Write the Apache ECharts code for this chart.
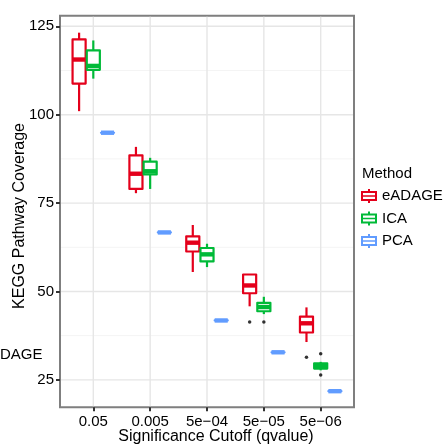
<!DOCTYPE html>
<html><head><meta charset="utf-8">
<script src="https://cdn.jsdelivr.net/npm/echarts@6/dist/echarts.min.js"></script>
<style>html,body{margin:0;padding:0;background:#fff}#c{width:444px;height:446px}</style>
</head><body><div id="c"></div>
<script>
// ---- data ----
const categories = ['0.05', '0.005', '5e\u221204', '5e\u221205', '5e\u221206'];
const methods = ['eADAGE', 'ICA', 'PCA'];
const colors = ['#E4001B', '#00BA38', '#619CFF'];
// [min, Q1, median, Q3, max] per cutoff
const eadageStats = [[101.0,108.8,115.6,121.3,123.2],[77.8,79.0,83.3,88.5,90.9],[55.5,61.3,63.8,65.6,68.8],[45.8,49.5,51.7,54.8,54.8],[35.7,38.4,41.0,42.9,45.5]];
const icaStats = [[110.2,112.7,113.8,118.2,121.0],[79.0,83.1,84.0,86.7,87.8],[56.9,58.5,60.5,62.3,63.5],[43.6,44.4,45.6,46.8,48.5],[27.7,28.2,28.9,29.7,30.1]];
const pcaStats = [[94.9,94.9,94.9,94.9,94.9],[66.7,66.7,66.7,66.7,66.7],[41.8,41.8,41.8,41.8,41.8],[32.8,32.8,32.8,32.8,32.8],[21.8,21.8,21.8,21.8,21.8]];
// outliers: [cutoff index (1-based), value]
const eadageOutliers = [[4,41.4],[5,31.4]];
const icaOutliers = [[4,41.4],[5,32.4],[5,26.4]];
const yTicks = [25, 50, 75, 100, 125];
const yMinor = [37.5, 62.5, 87.5, 112.5];
const xTitle = 'Significance Cutoff (qvalue)';
const yTitle = 'KEGG Pathway Coverage';

// ---- chart ----
const FONT = "'Liberation Sans', Arial, Helvetica, sans-serif";
const dodge = [-0.25, 0, 0.25];
const HW = 0.115;

function boxSeries(name, stats, color, off) {
  return {
    type: 'custom', name: name, z: 3, clip: false,
    itemStyle: { color: color },
    data: stats.map((s, i) => [i + 1].concat(s)),
    encode: { x: 0, y: [1, 2, 3, 4, 5] },
    renderItem: function (params, api) {
      const x = api.value(0) + off;
      const pMin = api.coord([x, api.value(1)]);
      const pQ1 = api.coord([x, api.value(2)]);
      const pMed = api.coord([x, api.value(3)]);
      const pQ3 = api.coord([x, api.value(4)]);
      const pMax = api.coord([x, api.value(5)]);
      const l = api.coord([x - HW, api.value(3)])[0];
      const r = api.coord([x + HW, api.value(3)])[0];
      const lw = 2.2;
      return { type: 'group', children: [
        { type: 'line', shape: { x1: pMax[0], y1: pMax[1], x2: pQ3[0], y2: pQ3[1] }, style: { stroke: color, lineWidth: lw } },
        { type: 'line', shape: { x1: pQ1[0], y1: pQ1[1], x2: pMin[0], y2: pMin[1] }, style: { stroke: color, lineWidth: lw } },
        { type: 'rect', shape: { x: l, y: pQ3[1], width: r - l, height: pQ1[1] - pQ3[1] }, style: { fill: '#fff', stroke: color, lineWidth: lw, lineJoin: 'round' } },
        { type: 'line', shape: { x1: l, y1: pMed[1], x2: r, y2: pMed[1] }, style: { stroke: color, lineWidth: 4.4 } }
      ]};
    }
  };
}

function gridSeries(values, horizontal, color, width) {
  return {
    type: 'custom', silent: true, z: 1, clip: false,
    data: values.map(v => horizontal ? [1, v] : [v, 50]),
    encode: { x: 0, y: 1 },
    renderItem: function (params, api) {
      const cs = params.coordSys;
      const p = api.coord([api.value(0), api.value(1)]);
      const shape = horizontal
        ? { x1: cs.x + 1, y1: p[1], x2: cs.x + cs.width - 1, y2: p[1] }
        : { x1: p[0], y1: cs.y + 1, x2: p[0], y2: cs.y + cs.height - 1 };
      return { type: 'line', shape: shape, style: { stroke: color, lineWidth: width } };
    }
  };
}

function outlierSeries(list, off) {
  return {
    type: 'scatter', z: 4, symbolSize: 3.5, silent: true,
    itemStyle: { color: '#000' },
    data: list.map(o => [o[0] + off, o[1]])
  };
}

const iconPath = 'path://M0,2L16,2L16,12L0,12Z M2,4L2,6.2L14,6.2L14,4Z M2,7.8L2,10L14,10L14,7.8Z M7,0L9,0L9,2L7,2Z M7,12L9,12L9,14L7,14Z';

const chart = echarts.init(document.getElementById('c'), null, { renderer: 'canvas' });
chart.setOption({
  animation: false,
  backgroundColor: '#fff',
  textStyle: { fontFamily: FONT },
  grid: { left: 60, top: 15.7, width: 294, height: 391.6, show: true, borderColor: '#7f7f7f', borderWidth: 2, backgroundColor: '#fff', containLabel: false, outerBoundsMode: 'none' },
  xAxis: {
    type: 'value', min: 0.414, max: 5.586,
    splitLine: { show: false }, axisLine: { show: false },
    axisTick: { show: true, customValues: [1, 2, 3, 4, 5], length: 4, lineStyle: { color: '#333', width: 2 } },
    axisLabel: { customValues: [1, 2, 3, 4, 5], formatter: v => categories[Math.round(v) - 1], fontSize: 15, color: '#000', margin: 7, fontFamily: FONT }
  },
  yAxis: {
    type: 'value', min: 17.24, max: 128.0,
    splitLine: { show: false }, axisLine: { show: false },
    axisTick: { show: true, customValues: yTicks, length: 4, lineStyle: { color: '#333', width: 2 } },
    axisLabel: { customValues: yTicks, fontSize: 15, color: '#000', margin: 6, fontFamily: FONT }
  },
  legend: {
    orient: 'vertical', left: 361, top: 188.5, padding: 0,
    itemWidth: 16, itemHeight: 15, itemGap: 7.5,
    data: methods.map(m => ({ name: m, icon: iconPath })),
    textStyle: { fontSize: 15, color: '#000', fontFamily: FONT },
    itemStyle: { borderWidth: 0 }
  },
  graphic: [
    { type: 'text', left: 362, top: 166, style: { text: 'Method', fontSize: 15, fill: '#000', fontFamily: FONT } },
    { type: 'text', left: 0, top: 347, style: { text: 'DAGE', fontSize: 15, fill: '#000', fontFamily: FONT } },
    { type: 'text', x: 216, y: 437, style: { text: xTitle, fontSize: 16, fill: '#000', fontFamily: FONT, align: 'center', verticalAlign: 'middle' } },
    { type: 'text', x: 20, y: 216, rotation: Math.PI / 2, style: { text: yTitle, fontSize: 16, fill: '#000', fontFamily: FONT, align: 'center', verticalAlign: 'middle' } }
  ],
  series: [
    gridSeries(yMinor, true, '#f4f4f4', 1),
    gridSeries(yTicks, true, '#e6e6e6', 1.4),
    gridSeries([1, 2, 3, 4, 5], false, '#e6e6e6', 1.4),
    boxSeries(methods[0], eadageStats, colors[0], dodge[0]),
    boxSeries(methods[1], icaStats, colors[1], dodge[1]),
    boxSeries(methods[2], pcaStats, colors[2], dodge[2]),
    outlierSeries(eadageOutliers, dodge[0]),
    outlierSeries(icaOutliers, dodge[1])
  ]
});
</script>
</body></html>
